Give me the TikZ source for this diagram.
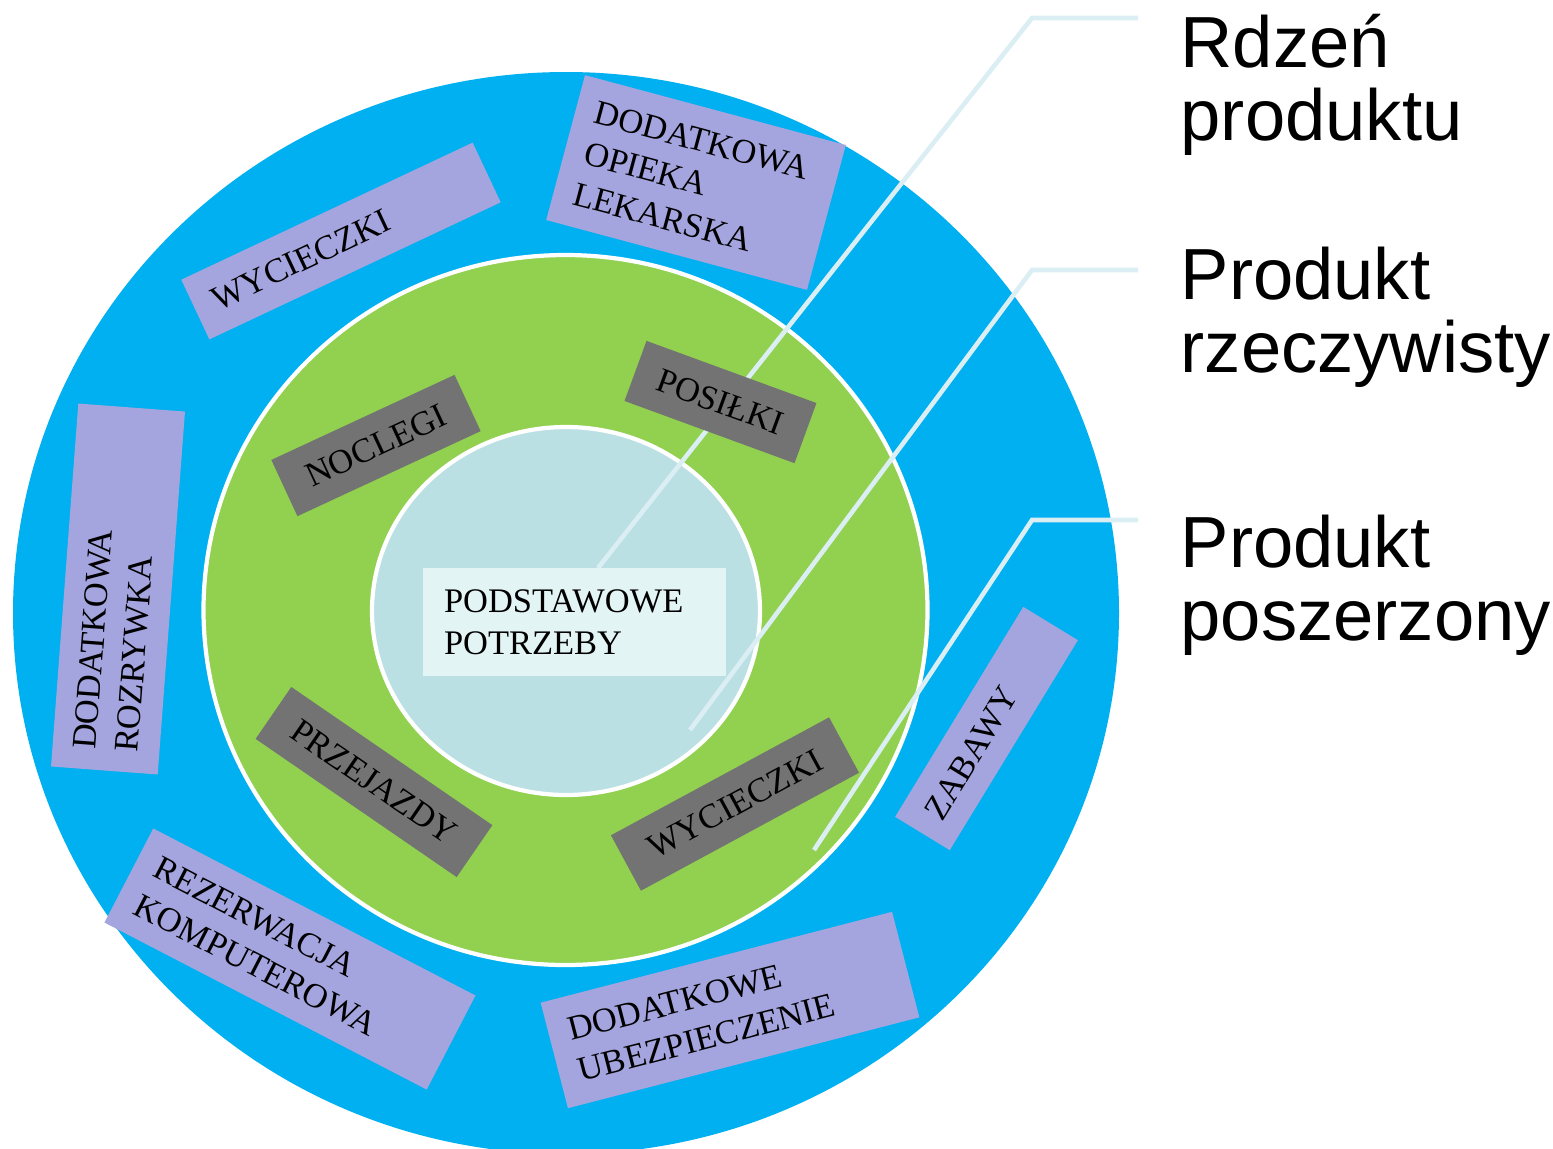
\documentclass[tikz,border=0pt]{standalone}
\usepackage{fontspec}
\setmainfont{Liberation Serif}
\newfontfamily\arialfont{Liberation Sans}
\usetikzlibrary{shapes.geometric}
\definecolor{cblue}{HTML}{00B0F0}
\definecolor{cgreen}{HTML}{92D050}
\definecolor{cinner}{HTML}{BBE0E3}
\definecolor{ccore}{HTML}{E3F4F5}
\definecolor{cpurple}{HTML}{A4A4DE}
\definecolor{cgray}{HTML}{737373}
\definecolor{clead}{HTML}{DBEEF3}
\newcommand\bxfont{\fontsize{9.8pt}{12pt}\selectfont}
\newcommand\rlfont{\arialfont\fontsize{20.6pt}{20.9pt}\selectfont}
\tikzset{
  ring/.style={ellipse, inner sep=0pt, outer sep=0pt},
  pbox/.style={fill=cpurple, inner xsep=0.2cm, inner ysep=0pt, align=left, font=\bxfont},
  gbox/.style={fill=cgray, inner sep=0pt, align=center, font=\bxfont},
  leader/.style={draw=clead, line width=1.3pt},
  rlabel/.style={inner sep=0pt, align=left, anchor=north west, font=\rlfont},
}
\begin{document}
\begin{tikzpicture}
\useasboundingbox (0,0) rectangle (15.53,-11.48);
\clip (0,0) rectangle (15.53,-11.48);
% rings
\node[ring, fill=cblue, minimum width=11.06cm, minimum height=10.82cm] (outer) at (5.66,-6.13) {};
\node[ring, fill=cgreen, draw=white, line width=1.2pt, minimum width=7.24cm, minimum height=7.10cm] (mid) at (5.655,-6.10) {};
\node[ring, fill=cinner, draw=white, line width=1.2pt, minimum width=3.88cm, minimum height=3.68cm] (inner) at (5.66,-6.11) {};
% outer ring boxes
\node[pbox, rotate=25.2, text width=2.82cm, minimum height=0.66cm] (pw) at (3.41,-2.41) {WYCIECZKI};
\node[pbox, rotate=-15, text width=2.30cm, minimum height=1.50cm] (po) at (6.96,-1.825) {DODATKOWA\\OPIEKA\\LEKARSKA};
\node[pbox, rotate=85.7, text width=3.24cm, minimum height=1.07cm] (pr) at (1.18,-5.89) {DODATKOWA\\ROZRYWKA};
\node[pbox, rotate=-27.4, text width=3.23cm, minimum height=1.06cm] (pk) at (2.90,-9.59) {REZERWACJA\\KOMPUTEROWA};
\node[pbox, rotate=14.5, text width=3.23cm, minimum height=1.09cm] (pu) at (7.30,-10.10) {DODATKOWE\\UBEZPIECZENIE};
\node[pbox, rotate=58.6, text width=2.06cm, minimum height=0.64cm] (pz) at (9.865,-7.285) {ZABAWY};
% leaders
\coordinate (a1) at (11.38,-0.18);
\coordinate (b1) at (10.32,-0.18);
\coordinate (c1) at (5.98,-5.68);
\coordinate (a2) at (11.38,-2.70);
\coordinate (b2) at (10.32,-2.70);
\coordinate (c2) at (6.90,-7.30);
\coordinate (a3) at (11.38,-5.20);
\coordinate (b3) at (10.32,-5.20);
\coordinate (c3) at (8.14,-8.50);
\draw[leader] (a1) -- (b1) -- (c1);
\draw[leader] (a2) -- (b2) -- (c2);
\draw[leader] (a3) -- (b3) -- (c3);
% middle ring boxes
\node[gbox, rotate=24.9, minimum width=2.02cm, minimum height=0.62cm] (gn) at (3.76,-4.455) {NOCLEGI};
\node[gbox, rotate=-20.1, minimum width=1.81cm, minimum height=0.64cm] (gp) at (7.205,-4.02) {POSIŁKI};
\node[gbox, rotate=-34.5, minimum width=2.44cm, minimum height=0.63cm] (gz) at (3.74,-7.82) {PRZEJAZDY};
\node[gbox, rotate=28.4, minimum width=2.48cm, minimum height=0.63cm] (gw) at (7.35,-8.04) {WYCIECZKI};
% core
\node[fill=ccore, minimum width=3.03cm, minimum height=1.08cm, text width=2.61cm, inner xsep=0.21cm, inner ysep=0pt, align=left, font=\bxfont] (core) at (5.745,-6.22) {PODSTAWOWE\\POTRZEBY};
% right labels
\node[rlabel] (l1) at (11.80,-0.13) {Rdzeń\\produktu};
\node[rlabel] (l2) at (11.80,-2.46) {Produkt\\rzeczywisty};
\node[rlabel] (l3) at (11.80,-5.14) {Produkt\\poszerzony};
\end{tikzpicture}
\end{document}
